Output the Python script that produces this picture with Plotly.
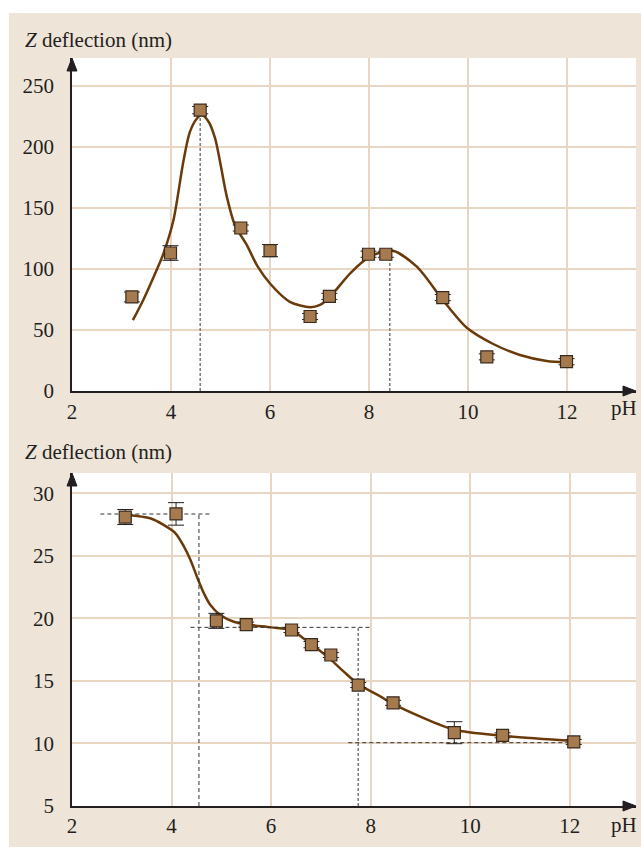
import plotly.graph_objects as go

# ---------------- data ----------------
# top panel: measured points
top_ph = [3.21, 3.99, 4.59, 5.41, 6.00, 6.81, 7.20, 7.99, 8.34, 9.49, 10.38, 11.99]
top_z = [77, 113, 230, 133.5, 115, 61, 77.5, 112, 112, 76.5, 28, 24]
top_err = [4, 6, 3, 2.5, 5, 2.5, 2.5, 2.5, 2.5, 2.5, 2.5, 2.5]
# top panel: fitted curve
top_fit_ph = [3.23, 3.44, 3.71, 3.85, 4.05, 4.25, 4.38, 4.52, 4.62, 4.76, 4.89, 4.99,
              5.12, 5.29, 5.53, 5.75, 6.0, 6.4, 6.81, 7.01, 7.2, 7.62, 8.02, 8.46,
              8.96, 9.49, 9.97, 10.51, 11.05, 11.59, 12.0]
top_fit_z = [58, 74.5, 99, 112.8, 140, 188, 212, 223, 226, 220.5, 207, 188,
             160.5, 136, 119.6, 102, 88, 73, 68.6, 70.5, 76.5, 96.4, 110, 115,
             102, 74.6, 52, 38.5, 29.5, 24.6, 23.5]
# top panel: guide lines (pH, height)
top_guides_ph = [4.59, 8.42]
top_guides_z = [228, 114]

# bottom panel: measured points
bot_ph = [3.07, 4.09, 4.90, 5.50, 6.41, 6.81, 7.20, 7.75, 8.45, 9.68, 10.65, 12.08]
bot_z = [28.1, 28.35, 19.8, 19.5, 19.07, 17.9, 17.07, 14.67, 13.25, 10.86, 10.65, 10.12]
bot_err = [0.6, 0.9, 0.6, 0.2, 0.2, 0.25, 0.2, 0.2, 0.2, 0.88, 0.2, 0.2]
# bottom panel: fitted curve
bot_fit_ph = [3.1, 3.57, 3.84, 4.08, 4.25, 4.38, 4.51, 4.65, 4.78, 4.98, 5.25, 5.5,
              6.0, 6.41, 6.67, 7.0, 7.2, 7.47, 7.75, 8.2, 8.43, 9.0, 9.68, 10.65, 12.08]
bot_fit_z = [28.26, 28.0, 27.47, 26.8, 25.73, 24.67, 23.33, 22.0, 21.07, 20.27, 19.73, 19.52,
             19.28, 19.05, 18.35, 17.35, 16.7, 15.7, 14.75, 13.74, 13.2, 12.14, 11.1, 10.62, 10.2]
# bottom panel: plateau guide lines
bot_levels = [28.34, 19.28, 10.06]
bot_level_from = [2.57, 4.38, 7.55]
bot_level_to = [4.79, 8.0, 12.0]
bot_vert_ph = [4.55, 7.75]
bot_vert_top = [28.34, 19.28]

top_yticks = [0, 50, 100, 150, 200, 250]
bot_yticks = [5, 10, 15, 20, 25, 30]
xticks = [2, 4, 6, 8, 10, 12]

# ---------------- style ----------------
W, H = 641, 847
BEIGE = "#EEE4D8"
GRID = "#E8D6C3"
INK = "#231F20"
CURVE = "#6B3A0B"
FILL = "#A57A4E"
EDGE = "#3A2A1C"
FONT = "Liberation Serif"
FS = 21


def px(x):
    return x / W


def py(y):
    return 1 - y / H


fig = go.Figure()

# fitted curves
fig.add_trace(go.Scatter(x=top_fit_ph, y=top_fit_z, mode="lines",
                         line=dict(color=CURVE, width=2.5, shape="spline", smoothing=0.8),
                         xaxis="x", yaxis="y", hoverinfo="skip"))
fig.add_trace(go.Scatter(x=bot_fit_ph, y=bot_fit_z, mode="lines",
                         line=dict(color=CURVE, width=2.5, shape="spline", smoothing=0.8),
                         xaxis="x2", yaxis="y2", hoverinfo="skip"))

# guide lines top
for gx, gz in zip(top_guides_ph, top_guides_z):
    fig.add_trace(go.Scatter(x=[gx, gx], y=[0, gz], mode="lines",
                             line=dict(color="#7A7A7A", width=1.5, dash="3px,2px"),
                             xaxis="x", yaxis="y", hoverinfo="skip"))
# guide lines bottom
for lv, a, b in zip(bot_levels, bot_level_from, bot_level_to):
    fig.add_trace(go.Scatter(x=[a, b], y=[lv, lv], mode="lines",
                             line=dict(color="#333333", width=1, dash="4px,3px"),
                             xaxis="x2", yaxis="y2", hoverinfo="skip"))
vcols = ["#333333", "#7A7A7A"]
vw = [1, 1.5]
vd = ["4px,3px", "3px,2px"]
for i, (gx, gz) in enumerate(zip(bot_vert_ph, bot_vert_top)):
    fig.add_trace(go.Scatter(x=[gx, gx], y=[5, gz], mode="lines",
                             line=dict(color=vcols[i], width=vw[i], dash=vd[i]),
                             xaxis="x2", yaxis="y2", hoverinfo="skip"))

# measured points
marker = dict(symbol="square", size=12, color=FILL, line=dict(color=EDGE, width=1.2))
fig.add_trace(go.Scatter(x=top_ph, y=top_z, mode="markers", marker=marker,
                         error_y=dict(type="data", array=top_err, visible=True,
                                      color=INK, thickness=1, width=8),
                         xaxis="x", yaxis="y"))
fig.add_trace(go.Scatter(x=bot_ph, y=bot_z, mode="markers", marker=marker,
                         error_y=dict(type="data", array=bot_err, visible=True,
                                      color=INK, thickness=1, width=8),
                         xaxis="x2", yaxis="y2"))

xdom = [px(72), px(636)]
top_dom = [py(391), py(58)]
bot_dom = [py(806), py(473)]

axis_common = dict(showgrid=True, gridcolor=GRID, gridwidth=1.5, zeroline=False,
                   showline=True, linecolor=INK, linewidth=1.5, ticks="",
                   automargin=False,
                   tickfont=dict(family=FONT, size=FS, color=INK), fixedrange=True)

shapes = [
    # white strips outside the beige panel
    dict(type="rect", xref="paper", yref="paper", x0=0, x1=1, y0=py(13), y1=1,
         fillcolor="white", line=dict(width=0), layer="below"),
    dict(type="rect", xref="paper", yref="paper", x0=0, x1=px(9), y0=0, y1=1,
         fillcolor="white", line=dict(width=0), layer="below"),
]


def tri(points):
    p = "M " + " L ".join(f"{px(a):.5f},{py(b):.5f}" for a, b in points) + " Z"
    return dict(type="path", xref="paper", yref="paper", path=p,
                fillcolor=INK, line=dict(color=INK, width=1), layer="above")


for ytop, yaxis_px in [(58, 391), (473, 806)]:
    shapes.append(tri([(72, ytop), (67, ytop + 13), (77, ytop + 13)]))
    shapes.append(tri([(636, yaxis_px), (623, yaxis_px - 5), (623, yaxis_px + 5)]))

annotations = []
for yc in [40, 452]:
    annotations.append(dict(text="<i>Z</i> deflection (nm)", xref="paper", yref="paper",
                            x=px(23), y=py(yc), xanchor="left", yanchor="middle",
                            showarrow=False, font=dict(family=FONT, size=FS, color=INK)))
for yc in [408, 825]:
    annotations.append(dict(text="pH", xref="paper", yref="paper",
                            x=px(624), y=py(yc), xanchor="center", yanchor="middle",
                            showarrow=False, font=dict(family=FONT, size=FS, color=INK)))

fig.update_layout(
    width=W, height=H, autosize=False, margin=dict(l=0, r=0, t=0, b=0, pad=0),
    paper_bgcolor=BEIGE, plot_bgcolor="white", showlegend=False,
    xaxis=dict(domain=xdom, range=[2, 13.394], tickvals=xticks, anchor="y",
               ticklabelstandoff=1, **axis_common),
    yaxis=dict(domain=top_dom, range=[0, 272.7], tickvals=top_yticks, anchor="x",
               ticklabelstandoff=12, **axis_common),
    xaxis2=dict(domain=xdom, range=[2, 13.33], tickvals=xticks, anchor="y2",
                ticklabelstandoff=0, **axis_common),
    yaxis2=dict(domain=bot_dom, range=[5, 31.62], tickvals=bot_yticks, anchor="x2",
                ticklabelstandoff=12, **axis_common),
    shapes=shapes, annotations=annotations,
)

fig.write_html("out.html", config={"displayModeBar": False})
